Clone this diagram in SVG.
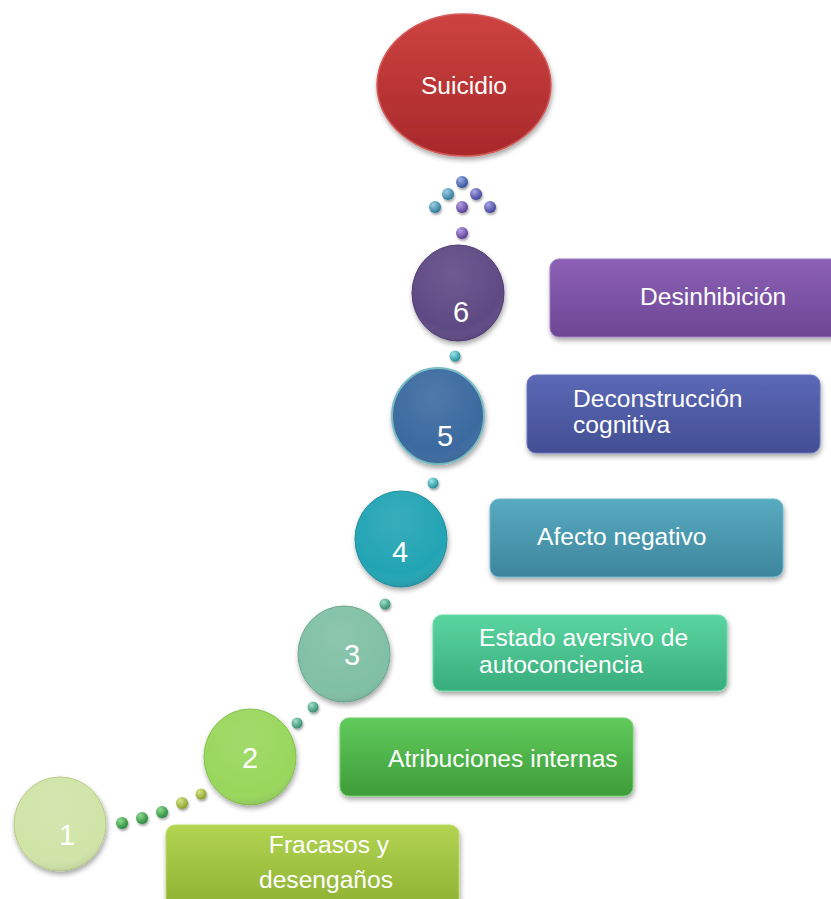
<svg xmlns="http://www.w3.org/2000/svg" width="831" height="899" viewBox="0 0 831 899">
<defs>
<style>
.lbl{font-family:"Liberation Sans",Arial,sans-serif;font-size:24.6px;fill:#ffffff}
.num{font-family:"Liberation Sans",Arial,sans-serif;font-size:29px;fill:#ffffff;text-anchor:middle}
.box{filter:url(#sh)}
.circ{filter:url(#sh)}
</style>
<filter id="sh" x="-20%" y="-20%" width="140%" height="150%">
<feDropShadow dx="1" dy="3" stdDeviation="2.5" flood-color="#000" flood-opacity="0.35"/>
</filter>
<filter id="dsh" x="-50%" y="-50%" width="200%" height="200%">
<feDropShadow dx="1" dy="2" stdDeviation="1.2" flood-color="#000" flood-opacity="0.35"/>
</filter>
<radialGradient id="gloss" cx="0.45" cy="0.3" r="0.75">
<stop offset="0" stop-color="#fff" stop-opacity="0.1"/>
<stop offset="0.75" stop-color="#fff" stop-opacity="0"/>
<stop offset="1" stop-color="#000" stop-opacity="0.14"/>
</radialGradient>
<linearGradient id="gRed" x1="0" y1="0" x2="0" y2="1"><stop offset="0" stop-color="#cd4240"/><stop offset="1" stop-color="#a8292b"/></linearGradient>
<linearGradient id="b6" x1="0" y1="0" x2="0" y2="1"><stop offset="0" stop-color="#8c60b6"/><stop offset="1" stop-color="#6c4694"/></linearGradient>
<linearGradient id="b5" x1="0" y1="0" x2="0" y2="1"><stop offset="0" stop-color="#5b68b6"/><stop offset="1" stop-color="#434f93"/></linearGradient>
<linearGradient id="b4" x1="0" y1="0" x2="0" y2="1"><stop offset="0" stop-color="#58aac0"/><stop offset="1" stop-color="#3d869d"/></linearGradient>
<linearGradient id="b3" x1="0" y1="0" x2="0" y2="1"><stop offset="0" stop-color="#5ad5a0"/><stop offset="1" stop-color="#38ad7c"/></linearGradient>
<linearGradient id="b2" x1="0" y1="0" x2="0" y2="1"><stop offset="0" stop-color="#60cb5c"/><stop offset="1" stop-color="#3e9c39"/></linearGradient>
<linearGradient id="b1" x1="0" y1="0" x2="0" y2="1"><stop offset="0" stop-color="#b2d452"/><stop offset="1" stop-color="#8bae30"/></linearGradient>
<radialGradient id="dGreen" cx="0.35" cy="0.3" r="0.7"><stop offset="0" stop-color="#8fdc8f"/><stop offset="1" stop-color="#2a8a3c"/></radialGradient>
<radialGradient id="dOlive" cx="0.35" cy="0.3" r="0.7"><stop offset="0" stop-color="#d6e68a"/><stop offset="1" stop-color="#8aa230"/></radialGradient>
<radialGradient id="dTeal" cx="0.35" cy="0.3" r="0.7"><stop offset="0" stop-color="#9ee0c8"/><stop offset="1" stop-color="#3a8e72"/></radialGradient>
<radialGradient id="dCyan" cx="0.35" cy="0.3" r="0.7"><stop offset="0" stop-color="#9ae6ea"/><stop offset="1" stop-color="#258f9c"/></radialGradient>
<radialGradient id="dBlue" cx="0.35" cy="0.3" r="0.7"><stop offset="0" stop-color="#9aaee6"/><stop offset="1" stop-color="#34549a"/></radialGradient>
<radialGradient id="dBT" cx="0.35" cy="0.3" r="0.7"><stop offset="0" stop-color="#9ad0e6"/><stop offset="1" stop-color="#2f7a9a"/></radialGradient>
<radialGradient id="dPurp" cx="0.35" cy="0.3" r="0.7"><stop offset="0" stop-color="#b9a0e6"/><stop offset="1" stop-color="#5b3f96"/></radialGradient>
<radialGradient id="dPB" cx="0.35" cy="0.3" r="0.7"><stop offset="0" stop-color="#a6a6e6"/><stop offset="1" stop-color="#44469a"/></radialGradient>
</defs>

<g id="connectors">
  <g filter="url(#dsh)">
    <circle cx="122" cy="823" r="6" fill="url(#dGreen)"/>
    <circle cx="142" cy="818" r="6" fill="url(#dGreen)"/>
    <circle cx="162" cy="812" r="6" fill="url(#dGreen)"/>
    <circle cx="182" cy="803" r="6" fill="url(#dOlive)"/>
    <circle cx="201" cy="794" r="5.5" fill="url(#dOlive)"/>
    <circle cx="297" cy="723" r="5.5" fill="url(#dTeal)"/>
    <circle cx="313" cy="707" r="5.5" fill="url(#dTeal)"/>
    <circle cx="385" cy="604" r="5.5" fill="url(#dTeal)"/>
    <circle cx="433" cy="483" r="5.5" fill="url(#dCyan)"/>
    <circle cx="455" cy="356" r="5.5" fill="url(#dCyan)"/>
    <circle cx="462" cy="233" r="6" fill="url(#dPurp)"/>
    <circle cx="435" cy="207" r="6" fill="url(#dBT)"/>
    <circle cx="462" cy="207" r="6" fill="url(#dPurp)"/>
    <circle cx="490" cy="207" r="6" fill="url(#dPB)"/>
    <circle cx="448" cy="194" r="6" fill="url(#dBT)"/>
    <circle cx="476" cy="194" r="6" fill="url(#dPB)"/>
    <circle cx="462" cy="182" r="6" fill="url(#dBlue)"/>
  </g>
</g>

<g id="suicidio">
  <ellipse class="circ" cx="464" cy="85" rx="87" ry="71" fill="url(#gRed)" stroke="#d35a58" stroke-width="1.5"/>
  <text class="lbl" x="464" y="94" text-anchor="middle">Suicidio</text>
</g>

<g id="step6">
  <ellipse class="circ" cx="458" cy="293" rx="46" ry="48" fill="#5f4a84" stroke="#4e3a72" stroke-width="1"/>
  <ellipse cx="458" cy="293" rx="46" ry="48" fill="url(#gloss)"/>
  <text class="num" x="461" y="322">6</text>
</g>
<g id="box6">
  <rect class="box" x="550" y="259" width="295" height="78" rx="9" fill="url(#b6)" stroke="#9d7cc0" stroke-width="1"/>
  <text class="lbl" x="640" y="305">Desinhibición</text>
</g>

<g id="step5">
  <ellipse class="circ" cx="438" cy="416" rx="46" ry="48" fill="#3b6ba0" stroke="#79bcc4" stroke-width="2"/>
  <ellipse cx="438" cy="416" rx="46" ry="48" fill="url(#gloss)"/>
  <text class="num" x="445" y="446">5</text>
</g>
<g id="box5">
  <rect class="box" x="527" y="375" width="293" height="78" rx="9" fill="url(#b5)" stroke="#6a76c0" stroke-width="1"/>
  <text class="lbl" x="573" y="407">Deconstrucción</text>
  <text class="lbl" x="573" y="433">cognitiva</text>
</g>

<g id="step4">
  <ellipse class="circ" cx="401" cy="539" rx="46" ry="48" fill="#22a4b4" stroke="#1c8e9c" stroke-width="1"/>
  <ellipse cx="401" cy="539" rx="46" ry="48" fill="url(#gloss)"/>
  <text class="num" x="400" y="562">4</text>
</g>
<g id="box4">
  <rect class="box" x="490" y="499" width="293" height="78" rx="9" fill="url(#b4)" stroke="#6ab8cc" stroke-width="1"/>
  <text class="lbl" x="537" y="545">Afecto negativo</text>
</g>

<g id="step3">
  <ellipse class="circ" cx="344" cy="654" rx="46" ry="48" fill="#80c0a5" stroke="#6aa98e" stroke-width="1"/>
  <ellipse cx="344" cy="654" rx="46" ry="48" fill="url(#gloss)"/>
  <text class="num" x="352" y="665">3</text>
</g>
<g id="box3">
  <rect class="box" x="433" y="615" width="294" height="76" rx="9" fill="url(#b3)" stroke="#6adcaa" stroke-width="1"/>
  <text class="lbl" x="479" y="646">Estado aversivo de</text>
  <text class="lbl" x="479" y="673">autoconciencia</text>
</g>

<g id="step2">
  <ellipse class="circ" cx="250" cy="757" rx="46" ry="48" fill="#98d75c" stroke="#84c24a" stroke-width="1"/>
  <ellipse cx="250" cy="757" rx="46" ry="48" fill="url(#gloss)"/>
  <text class="num" x="250" y="768">2</text>
</g>
<g id="box2">
  <rect class="box" x="340" y="718" width="293" height="78" rx="9" fill="url(#b2)" stroke="#70d06a" stroke-width="1"/>
  <text class="lbl" x="388" y="767">Atribuciones internas</text>
</g>

<g id="step1">
  <ellipse class="circ" cx="60" cy="824" rx="46" ry="47" fill="#d0e4a7" stroke="#b6cc8c" stroke-width="1"/>
  <ellipse cx="60" cy="824" rx="46" ry="47" fill="url(#gloss)"/>
  <text class="num" x="67" y="845">1</text>
</g>
<g id="box1">
  <rect class="box" x="166" y="825" width="293" height="90" rx="9" fill="url(#b1)" stroke="#bedc6a" stroke-width="1"/>
  <text class="lbl" x="329" y="853" text-anchor="middle">Fracasos y</text>
  <text class="lbl" x="326" y="888" text-anchor="middle">desengaños</text>
</g>
</svg>
